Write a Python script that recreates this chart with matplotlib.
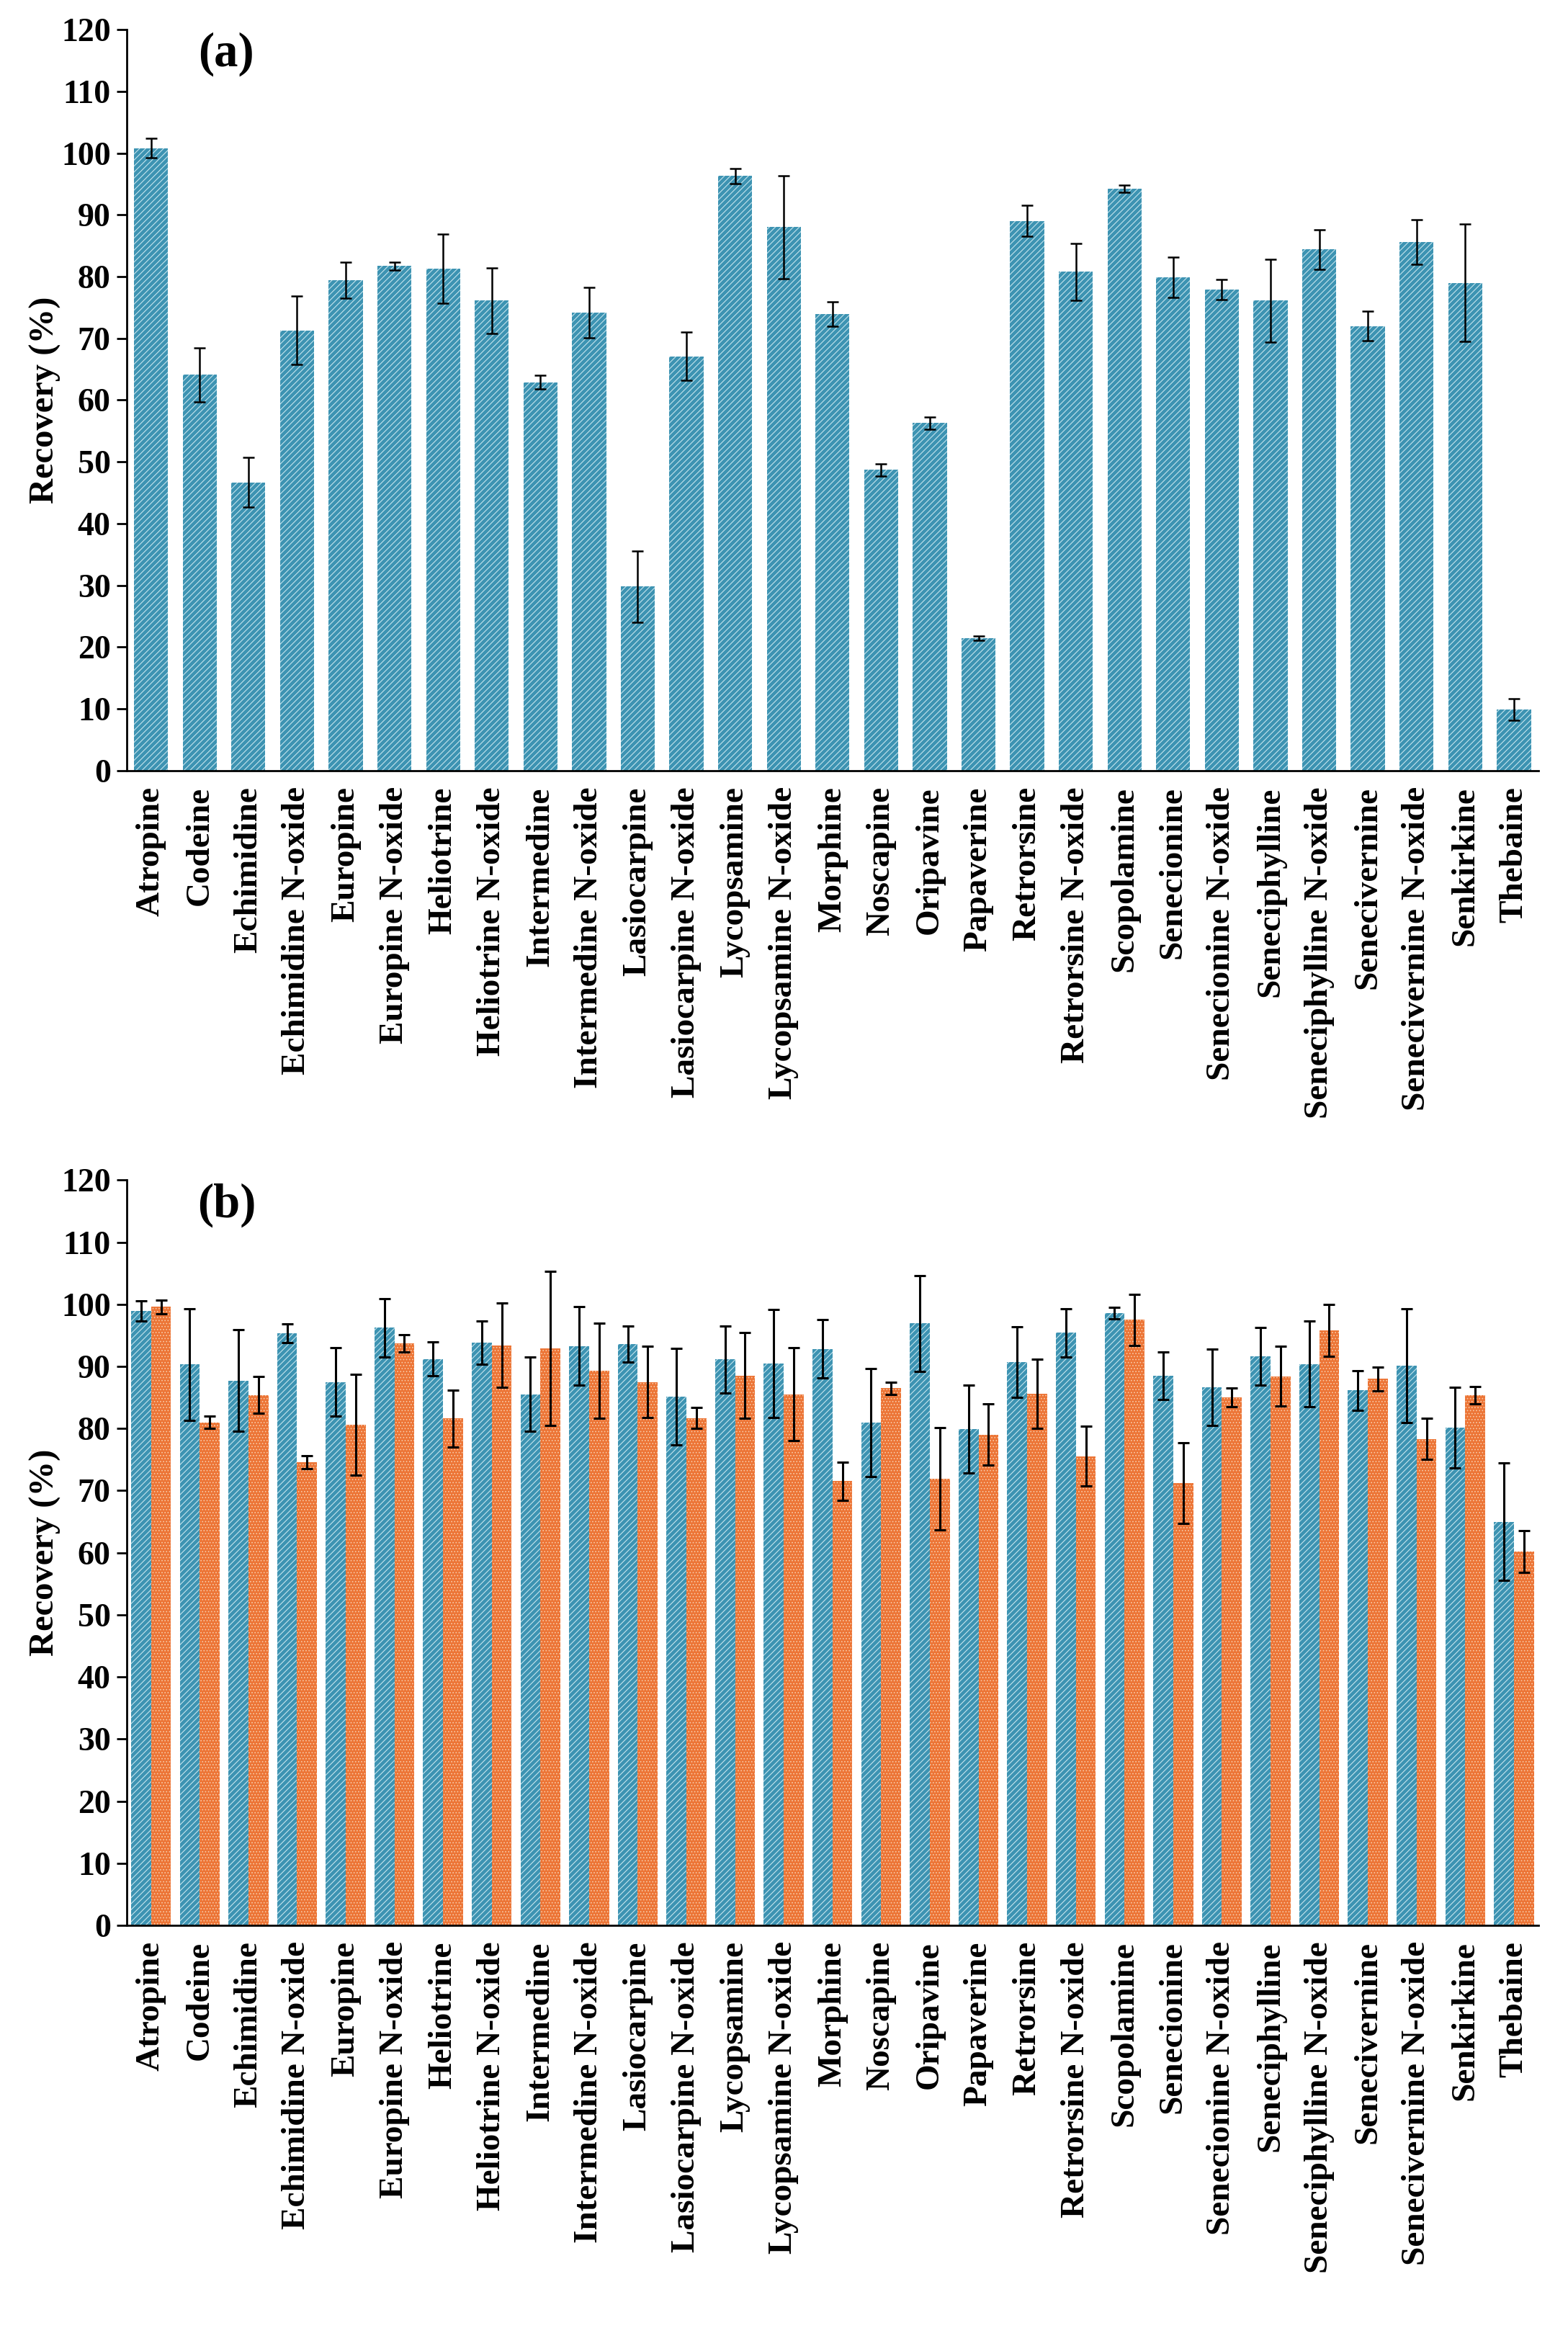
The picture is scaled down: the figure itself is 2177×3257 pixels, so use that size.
import matplotlib
matplotlib.use("Agg")
import matplotlib.pyplot as plt
import numpy as np

plt.rcParams['font.family'] = ['Liberation Serif', 'DejaVu Serif']
plt.rcParams['font.weight'] = 'bold'
plt.rcParams['hatch.linewidth'] = 0.75

compounds = ['Atropine', 'Codeine', 'Echimidine', 'Echimidine N-oxide', 'Europine',
             'Europine N-oxide', 'Heliotrine', 'Heliotrine N-oxide', 'Intermedine',
             'Intermedine N-oxide', 'Lasiocarpine', 'Lasiocarpine N-oxide', 'Lycopsamine',
             'Lycopsamine N-oxide', 'Morphine', 'Noscapine', 'Oripavine', 'Papaverine',
             'Retrorsine', 'Retrorsine N-oxide', 'Scopolamine', 'Senecionine',
             'Senecionine N-oxide', 'Seneciphylline', 'Seneciphylline N-oxide',
             'Senecivernine', 'Senecivernine N-oxide', 'Senkirkine', 'Thebaine']

# panel (a)
rec_a = [100.8, 64.1, 46.7, 71.3, 79.4, 81.7, 81.3, 76.1, 62.9, 74.2,
         29.8, 67.1, 96.3, 88.0, 73.9, 48.7, 56.3, 21.4, 89.0, 80.8,
         94.2, 79.9, 77.9, 76.1, 84.4, 72.0, 85.6, 79.0, 9.9]
sd_a = [1.6, 4.4, 4.0, 5.5, 2.9, 0.6, 5.6, 5.3, 1.1, 4.1,
        5.8, 3.9, 1.2, 8.3, 2.0, 1.0, 1.0, 0.35, 2.5, 4.6,
        0.6, 3.3, 1.6, 6.75, 3.2, 2.4, 3.6, 9.55, 1.8]

# panel (b): blue series and orange series
rec_b1 = [98.9, 90.3, 87.7, 95.3, 87.5, 96.2, 91.2, 93.85, 85.5, 93.3,
          93.6, 85.1, 91.1, 90.5, 92.8, 81.0, 96.9, 79.9, 90.7, 95.4,
          98.55, 88.5, 86.6, 91.6, 90.35, 86.15, 90.1, 80.1, 65.0]
sd_b1 = [1.6, 9.0, 8.2, 1.5, 5.5, 4.7, 2.7, 3.5, 6.0, 6.35,
         2.9, 7.8, 5.4, 8.7, 4.7, 8.7, 7.7, 7.1, 5.7, 3.85,
         0.9, 3.85, 6.15, 4.6, 6.9, 3.2, 9.2, 6.5, 9.5]
rec_b2 = [99.6, 81.0, 85.4, 74.6, 80.6, 93.7, 81.6, 93.4, 92.9, 89.3,
          87.5, 81.7, 88.5, 85.5, 71.5, 86.5, 71.9, 79.0, 85.6, 75.55,
          97.5, 71.2, 85.0, 88.4, 95.8, 88.0, 78.3, 85.4, 60.2]
sd_b2 = [1.1, 1.0, 3.0, 1.05, 8.1, 1.35, 4.6, 6.8, 12.4, 7.6,
         5.7, 1.7, 6.9, 7.5, 3.1, 1.0, 8.2, 4.95, 5.6, 4.8,
         4.15, 6.5, 1.55, 4.8, 4.2, 1.9, 3.3, 1.4, 3.4]

yticks = list(range(0, 121, 10))

blue = '#3d93b2'
blue_hatch = '#cde9f1'
orange = '#ec7435'
orange_hatch = '#f8c7a4'

fig = plt.figure(figsize=(21.77, 32.57), dpi=100)
ax_a = fig.add_axes([0.0808, 0.6715, 0.9002, 0.3159])
ax_b = fig.add_axes([0.0808, 0.1793, 0.9002, 0.3177])

x = np.arange(len(compounds))


def style_axes(ax, tag):
    ax.set_ylim(0, 120)
    ax.set_xlim(-0.5, len(compounds) - 0.5)
    ax.set_yticks(yticks)
    ax.set_yticklabels([str(v) for v in yticks], fontsize=33, fontweight='bold')
    ax.set_xticks(x)
    ax.set_xticklabels(compounds, rotation=90, fontsize=34, fontweight='bold')
    ax.tick_params(axis='x', length=0, pad=16)
    ax.tick_params(axis='y', length=10, width=2, direction='out', pad=6)
    for s in ['top', 'right']:
        ax.spines[s].set_visible(False)
    for s in ['left', 'bottom']:
        ax.spines[s].set_linewidth(2)
    ax.set_ylabel('Recovery (%)', fontsize=35, fontweight='bold', labelpad=0)
    ax.text(1.55, 116, tag, fontsize=48, fontweight='bold', ha='center', va='center')


# (a)
ax_a.bar(x, rec_a, width=0.70, color=blue, edgecolor=blue_hatch, linewidth=0, hatch='////')
ax_a.errorbar(x, rec_a, yerr=sd_a, fmt='none', ecolor='black', elinewidth=1.8,
              capsize=6, capthick=1.8)
style_axes(ax_a, '(a)')

# (b)
w = 0.41
ax_b.bar(x - w / 2, rec_b1, width=w, color=blue, edgecolor=blue_hatch, linewidth=0, hatch='////')
ax_b.bar(x + w / 2, rec_b2, width=w, color=orange, edgecolor=orange_hatch, linewidth=0, hatch='....')
ax_b.errorbar(x - w / 2, rec_b1, yerr=sd_b1, fmt='none', ecolor='black', elinewidth=2.2,
              capsize=6, capthick=2.2)
ax_b.errorbar(x + w / 2, rec_b2, yerr=sd_b2, fmt='none', ecolor='black', elinewidth=2.2,
              capsize=6, capthick=2.2)
style_axes(ax_b, '(b)')

fig.savefig('out.png', dpi=100)
